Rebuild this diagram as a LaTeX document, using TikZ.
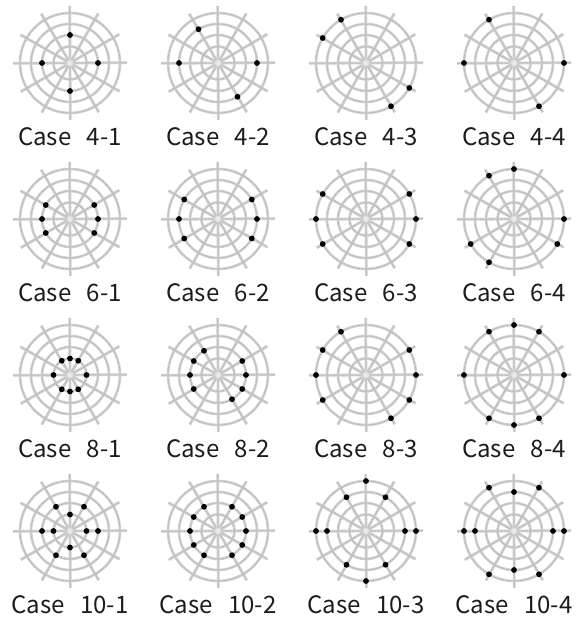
\documentclass[tikz,border=0pt]{standalone}
\usepackage{fontspec}
\newfontfamily\casefont{Noto Sans CJK KR}
\usetikzlibrary{positioning}
\definecolor{wbline}{RGB}{206,206,206}
\definecolor{wbseam}{RGB}{168,168,168}
\definecolor{wbhub}{RGB}{232,232,232}
\definecolor{wbtext}{RGB}{28,28,28}
\tikzset{
  wbspoke/.style={line width=2.8pt, draw=wbline},
  wbring/.style={line width=2.6pt, draw=wbline},
  wbdash/.style={line width=.45pt, draw=wbseam, dash pattern=on .9pt off .9pt},
  wbhubc/.style={draw=wbline, line width=1pt, fill=wbhub},
  wbdot/.style={fill=black},
  wblabel/.style={font=\casefont\fontsize{24}{24}\selectfont, text=wbtext, inner sep=0pt}
}
% one web: x, y, name, label, angle/radius list of dots
\newcommand{\wbcase}[5]{%
  \coordinate (#3) at (#1,#2);
  \foreach \a in {0.3,30.3,...,150.3} \draw[wbspoke] ([shift={(\a:57)}]#3) -- ([shift={(\a+180:57)}]#3);
  \foreach \r in {16.5,28,39,50} \draw[wbring] (#3) circle[radius=\r pt];
  \foreach \a in {0.3,30.3,...,150.3} \draw[wbdash] ([shift={(\a:57)}]#3) -- ([shift={(\a+180:57)}]#3);
  \foreach \r in {16.5,28,39,50} \draw[wbdash] (#3) circle[radius=\r pt];
  \draw[wbhubc] (#3) circle[radius=3.6pt];
  \foreach \a/\r in {#5} \fill[wbdot] (#3) ++(\a:\r) circle[radius=2.9pt];
  \node[wblabel] (#3lab) at ([yshift=-74pt]#3) {#4};
}

\begin{document}
\begin{tikzpicture}[x=1pt, y=1pt]
  \useasboundingbox (0,0) rectangle (580,626);
  % four dots
  \wbcase{70}{563}{c41}{Case\hspace{.65em}4-1}{0/28,90/28,180/28,270/28}
  \wbcase{218}{563}{c42}{Case\hspace{.65em}4-2}{0/39,120/39,180/39,300/39}
  \wbcase{366}{563}{c43}{Case\hspace{.65em}4-3}{120/50,150/50,300/50,330/50}
  \wbcase{514}{563}{c44}{Case\hspace{.65em}4-4}{0/50,120/50,180/50,300/50}
  % six dots
  \wbcase{70}{407}{c61}{Case\hspace{.65em}6-1}{0/28,30/28,150/28,180/28,210/28,330/28}
  \wbcase{218}{407}{c62}{Case\hspace{.65em}6-2}{0/39,30/39,150/39,180/39,210/39,330/39}
  \wbcase{366}{407}{c63}{Case\hspace{.65em}6-3}{0/50,30/50,150/50,180/50,210/50,330/50}
  \wbcase{514}{407}{c64}{Case\hspace{.65em}6-4}{0/50,90/50,120/50,210/50,240/50,330/50}
  % eight dots
  \wbcase{70}{251}{c81}{Case\hspace{.65em}8-1}{0/16.5,60/16.5,90/16.5,120/16.5,180/16.5,240/16.5,270/16.5,300/16.5}
  \wbcase{218}{251}{c82}{Case\hspace{.65em}8-2}{0/28,30/28,120/28,150/28,180/28,210/28,300/28,330/28}
  \wbcase{366}{251}{c83}{Case\hspace{.65em}8-3}{0/50,30/50,120/50,150/50,180/50,210/50,300/50,330/50}
  \wbcase{514}{251}{c84}{Case\hspace{.65em}8-4}{0/50,60/50,90/50,120/50,180/50,240/50,270/50,300/50}
  % ten dots
  \wbcase{70}{95}{c101}{Case\hspace{.65em}10-1}{0/16.5,90/16.5,180/16.5,270/16.5,0/28,60/28,120/28,180/28,240/28,300/28}
  \wbcase{218}{95}{c102}{Case\hspace{.65em}10-2}{0/28,30/28,60/28,120/28,150/28,180/28,210/28,240/28,300/28,330/28}
  \wbcase{366}{95}{c103}{Case\hspace{.65em}10-3}{0/50,90/50,180/50,270/50,0/39,60/39,120/39,180/39,240/39,300/39}
  \wbcase{514}{95}{c104}{Case\hspace{.65em}10-4}{0/50,60/50,120/50,180/50,240/50,300/50,0/39,90/39,180/39,270/39}
\end{tikzpicture}
\end{document}
